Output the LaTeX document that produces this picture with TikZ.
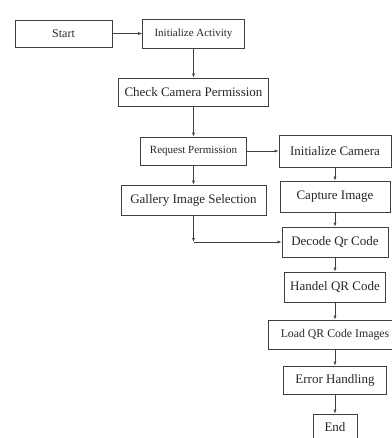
\documentclass[tikz,border=0pt]{standalone}
\usepackage{fontspec}
\setmainfont{Liberation Serif}
\usetikzlibrary{arrows.meta}
\begin{document}
\begin{tikzpicture}
    [x=1pt,y=-1pt,
    box/.style = {draw=black!75,
                line width=0.8pt,
                inner sep=0pt,
                text=black!85,
                font=\fontsize{13}{15}\selectfont},
    small/.style = {font=\fontsize{11}{13}\selectfont},
    arr/.style = {draw=black!75,
                line width=0.6pt,
                -{Latex[length=4pt,width=3pt]}}]
    \useasboundingbox (0,0) rectangle (391,438);
    \node[box,font=\fontsize{12}{14}\selectfont,minimum width=97pt,minimum height=27pt] (start) at (63.5,33.5) {Start};
    \node[box,small,minimum width=102pt,minimum height=29pt] (initact) at (193.5,33.5) {Initialize Activity};
    \node[box,minimum width=150pt,minimum height=28pt] (checkperm) at (193.5,92) {Check Camera Permission};
    \node[box,small,minimum width=106pt,minimum height=28pt] (reqperm) at (193.5,151) {Request Permission};
    \node[box,minimum width=112pt,minimum height=32pt] (initcam) at (335,151) {Initialize Camera};
    \node[box,minimum width=145pt,minimum height=30pt] (gallery) at (193.5,200) {Gallery Image Selection};
    \node[box,minimum width=110pt,minimum height=31pt] (capture) at (335,196.5) {Capture Image};
    \node[box,minimum width=106pt,minimum height=30pt] (decode) at (335,242) {Decode Qr Code};
    \node[box,minimum width=101pt,minimum height=30pt] (handel) at (335,287) {Handel QR Code};
    \node[box,font=\fontsize{11.8}{14}\selectfont,minimum width=134pt,minimum height=29pt] (loadqr) at (335,334.5) {Load QR Code Images};
    \node[box,minimum width=103pt,minimum height=28pt] (error) at (335,380) {Error Handling};
    \node[box,minimum width=44pt,minimum height=26pt] (end) at (335,427) {End};
    \coordinate (bend) at (193.5,242);
    \draw[arr] (start) -- (initact);
    \draw[arr] (initact) -- (checkperm);
    \draw[arr] (checkperm) -- (reqperm);
    \draw[arr] (reqperm) -- (initcam);
    \draw[arr] (reqperm) -- (gallery);
    \draw[arr] (initcam) -- (capture);
    \draw[arr] (capture) -- (decode);
    \draw[arr] (gallery) -- (bend);
    \draw[arr] (bend) -- (decode);
    \draw[arr] (decode) -- (handel);
    \draw[arr] (handel) -- (loadqr);
    \draw[arr] (loadqr) -- (error);
    \draw[arr] (error) -- (end);
\end{tikzpicture}
\end{document}
